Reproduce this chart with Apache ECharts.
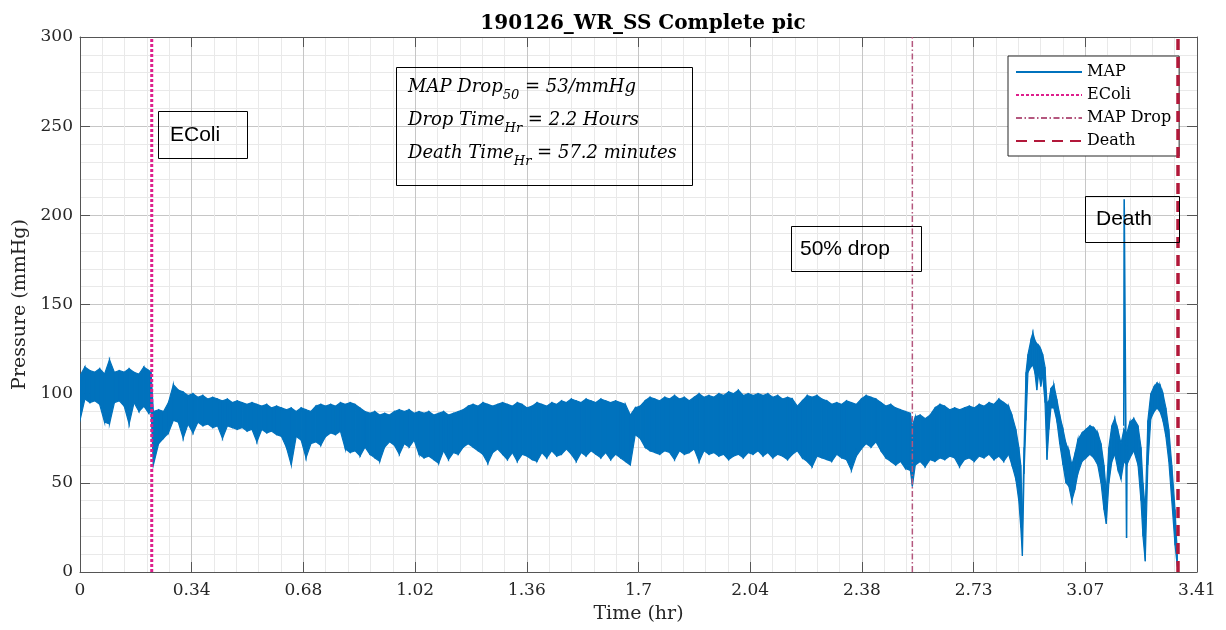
<!DOCTYPE html>
<html><head><meta charset="utf-8">
<script src="https://cdn.jsdelivr.net/npm/echarts@6/dist/echarts.min.js"></script>
<style>html,body{margin:0;padding:0;background:#fff}#c{width:1226px;height:630px}</style>
</head><body><div id="c"></div>
<script>
// ---------- data ----------
const chartTitle = '190126_WR_SS Complete pic';
const xTickLabels = ['0','0.34','0.68','1.02','1.36','1.7','2.04','2.38','2.73','3.07','3.41'];
const xMaxHr = 3.41;
const yMin = 0, yMax = 300, yStep = 50;

// MAP signal: sample times (hr) with the upper and lower edges of the trace (mmHg)
const timeHr = [
0,0.015,0.03,0.045,0.06,0.075,0.09,0.105,0.12,0.135,0.15,0.165,0.18,0.195,0.21,0.217,0.224,
0.24,0.255,0.27,0.285,0.3,0.315,0.33,0.345,0.36,0.375,0.39,0.405,0.42,0.435,0.45,0.465,0.48,0.495,
0.51,0.525,0.54,0.555,0.57,0.585,0.6,0.615,0.63,0.645,0.66,0.675,0.69,0.705,0.72,0.735,0.75,0.765,
0.78,0.795,0.81,0.825,0.84,0.855,0.87,0.885,0.9,0.915,0.93,0.945,0.96,0.975,0.99,1.005,1.02,1.035,
1.05,1.065,1.08,1.095,1.11,1.125,1.14,1.155,1.17,1.185,1.2,1.215,1.23,1.245,1.26,1.275,1.29,1.305,
1.32,1.335,1.35,1.365,1.38,1.395,1.41,1.425,1.44,1.455,1.47,1.485,1.5,1.515,1.53,1.545,1.56,1.575,
1.59,1.605,1.62,1.635,1.65,1.665,1.68,1.695,1.71,1.725,1.74,1.755,1.77,1.785,1.8,1.815,1.83,1.845,
1.86,1.875,1.89,1.905,1.92,1.935,1.95,1.965,1.98,1.995,2.01,2.025,2.04,2.055,2.07,2.085,2.1,2.115,
2.13,2.145,2.16,2.175,2.19,2.205,2.22,2.235,2.25,2.265,2.28,2.295,2.31,2.325,2.34,2.355,2.37,2.385,
2.4,2.415,2.43,2.445,2.46,2.475,2.49,2.505,2.52,2.535,2.541,2.55,2.565,2.58,2.595,2.61,2.625,2.64,
2.655,2.67,2.685,2.7,2.715,2.73,2.745,2.76,2.775,2.79,2.805,2.82,2.835,
2.845,2.857,2.866,2.872,2.877,2.882,2.888,2.894,2.903,2.909,2.915,2.921,2.927,2.933,2.939,2.946,
2.952,2.958,2.964,2.973,2.982,2.991,3.001,3.01,3.019,3.028,3.037,3.046,3.059,3.071,3.083,3.095,
3.107,3.117,3.126,3.133,3.141,3.15,3.159,3.168,3.178,3.187,3.196,3.205,3.217,3.23,3.239,3.245,
3.252,3.26,3.269,3.279,3.288,3.297,3.306,3.315,3.324,3.333,3.343,3.35
];
const mapHigh = [
110,115,113,112,114,111,119,112,113,112,114,112,111,115,113,112,90,
91,90,95,105,102,101,99,100,98,99,97,98,97,96,97,95,96,95,
94,95,94,93,94,92,93,92,91,92,90,92,91,90,93,94,93,94,
93,95,94,95,94,92,90,89,90,88,89,88,90,91,90,91,89,90,
89,90,88,89,90,88,89,90,91,93,94,93,95,94,93,94,95,94,
93,95,94,92,93,95,94,93,95,94,96,95,97,96,95,97,96,95,
97,96,95,96,95,94,88,92,93,96,98,97,96,98,97,99,97,98,
96,98,100,98,99,98,100,99,101,100,102,99,100,99,100,99,100,98,
99,97,98,97,93,96,99,98,99,97,96,94,95,94,96,95,94,97,
99,98,97,95,93,94,92,91,90,89,82,87,88,86,88,92,94,93,
91,92,91,92,93,92,94,93,95,94,97,95,93,
88,80,70,60,30,70,112,122,130,134,130,128,127,125,122,115,
95,96,103,105,97,88,80,72,68,60,66,74,78,80,82,81,
78,72,60,45,70,82,86,80,72,80,78,84,86,82,70,50,
35,85,100,104,106,105,100,92,80,60,35,10
];
const mapLow = [
85,97,95,96,94,84,83,95,96,93,83,95,90,93,89,90,60,
72,75,78,85,84,75,83,78,84,82,83,81,82,75,82,81,80,81,
79,80,73,80,78,79,77,76,70,60,76,74,64,72,73,71,76,78,
77,79,69,67,68,65,70,66,64,62,70,73,71,66,72,70,74,66,
64,65,63,61,68,63,67,66,70,72,70,68,66,61,67,69,66,63,
67,62,66,65,63,62,67,64,68,65,66,69,66,62,67,65,68,66,
64,67,63,66,64,62,60,77,75,70,68,67,66,68,67,63,68,66,
67,69,62,68,66,67,65,66,63,65,66,64,67,66,68,65,67,64,
66,65,63,66,68,64,62,59,65,64,63,62,66,64,63,57,65,69,
72,70,73,68,64,62,60,62,58,57,48,60,62,59,63,62,64,63,
65,64,59,63,64,62,65,64,66,63,65,62,66,
60,52,40,25,9,55,85,112,115,116,112,102,112,104,110,95,
63,80,92,92,85,72,60,50,48,40,46,55,62,64,66,64,
60,50,35,27,50,62,66,58,52,62,60,64,68,60,40,20,
6,60,86,90,92,90,85,76,62,40,15,3
];
// the single sharp artefact near the end of the recording
const spikeTimeHr = [3.1865, 3.1877, 3.195, 3.1965];
const spikeValue = [82, 209, 19, 75];

// event markers
const eventNames = ['EColi', 'MAP Drop', 'Death'];
const eventTimeHr = [0.219, 2.541, 3.352];
const legendNames = ['MAP', 'EColi', 'MAP Drop', 'Death'];

// ---------- chart ----------
const BLUE = '#0072BD';
const SERIF = '"DejaVu Serif", "Liberation Serif", serif';
const SANS = '"Liberation Sans", Arial, sans-serif';
const AX = '#555555';
const xInterval = xMaxHr / 10;

const eventStyles = [
  {color: '#DE1F8C', width: 3, type: [3, 2]},
  {color: '#B4577E', width: 1.5, type: [6, 2.5, 1.5, 2.5]},
  {color: '#B2183A', width: 3.5, type: [11, 7]}
];

const bandData = timeHr.map((t, i) => [t, mapLow[i], mapHigh[i]]);

const series = [
  {
    type: 'custom', name: 'MAP band', silent: true, clip: true, z: 2,
    data: bandData, encode: {x: 0, y: [1, 2]},
    renderItem: function (params, api) {
      const i = params.dataIndex;
      if (i >= timeHr.length - 1) return null;
      const pts = [
        api.coord([timeHr[i], mapHigh[i]]),
        api.coord([timeHr[i + 1], mapHigh[i + 1]]),
        api.coord([timeHr[i + 1], mapLow[i + 1]]),
        api.coord([timeHr[i], mapLow[i]])
      ];
      return {type: 'polygon', shape: {points: pts}, style: {fill: BLUE, stroke: BLUE, lineWidth: 1.2}};
    }
  },
  {
    type: 'line', name: 'MAP', symbol: 'none', silent: true, z: 3,
    data: spikeTimeHr.map((t, i) => [t, spikeValue[i]]),
    lineStyle: {color: BLUE, width: 1.6}, itemStyle: {color: BLUE}
  }
];
eventNames.forEach((n, k) => {
  series.push({
    type: 'line', name: n, symbol: 'none', silent: true, z: 4,
    data: [[eventTimeHr[k], yMin], [eventTimeHr[k], yMax]],
    lineStyle: {color: eventStyles[k].color, width: eventStyles[k].width, type: eventStyles[k].type, cap: 'butt'},
    itemStyle: {color: eventStyles[k].color}
  });
});

const axisCommon = {
  axisLine: {show: true, onZero: false, lineStyle: {color: AX, width: 1}},
  axisTick: {show: true, inside: true, length: 10, lineStyle: {color: AX}}
};

const option = {
  animation: false,
  backgroundColor: '#fff',
  title: {
    text: chartTitle, left: 638, top: 9, textAlign: 'center',
    textStyle: {fontFamily: SERIF, fontWeight: 'bold', fontSize: 20, color: '#000'}
  },
  grid: {left: 80, right: 29, top: 37, bottom: 58, containLabel: false},
  legend: {
    data: legendNames, orient: 'vertical', left: 1008, top: 56,
    itemWidth: 66, itemHeight: 14, itemGap: 7, padding: [8, 8, 7, 7],
    backgroundColor: '#fff', borderColor: '#262626', borderWidth: 1, borderRadius: 0,
    selectedMode: false,
    itemStyle: {opacity: 0, borderWidth: 0},
    textStyle: {fontFamily: SERIF, fontSize: 16, color: '#000'}
  },
  xAxis: [
    Object.assign({
      type: 'value', min: 0, max: xMaxHr, interval: xInterval, position: 'bottom',
      name: 'Time (hr)', nameLocation: 'middle', nameGap: 33,
      nameTextStyle: {fontFamily: SERIF, fontSize: 19, color: '#262626'},
      axisLabel: {
        fontFamily: SERIF, fontSize: 17, color: '#262626', margin: 10,
        formatter: v => xTickLabels[Math.round(v / xInterval)] ?? ''
      },
      splitLine: {show: true, lineStyle: {color: '#c6c6c6', width: 1}},
      minorTick: {show: false, splitNumber: 5},
      minorSplitLine: {show: true, lineStyle: {color: '#e9e9e9', width: 1}}
    }, axisCommon),
    Object.assign({
      type: 'value', min: 0, max: xMaxHr, interval: xInterval, position: 'top',
      axisLabel: {show: false}, splitLine: {show: false}
    }, axisCommon)
  ],
  yAxis: [
    Object.assign({
      type: 'value', min: yMin, max: yMax, interval: yStep, position: 'left',
      name: 'Pressure (mmHg)', nameLocation: 'middle', nameGap: 48,
      nameTextStyle: {fontFamily: SERIF, fontSize: 19, color: '#262626'},
      axisLabel: {fontFamily: SERIF, fontSize: 17, color: '#262626', margin: 7},
      splitLine: {show: true, lineStyle: {color: '#c6c6c6', width: 1}},
      minorTick: {show: false, splitNumber: 5},
      minorSplitLine: {show: true, lineStyle: {color: '#e9e9e9', width: 1}}
    }, axisCommon),
    Object.assign({
      type: 'value', min: yMin, max: yMax, interval: yStep, position: 'right',
      axisLabel: {show: false}, splitLine: {show: false}
    }, axisCommon)
  ],
  series: series,
  graphic: [
    // EColi label box
    {type: 'rect', shape: {x: 158.5, y: 111.5, width: 89, height: 47}, style: {fill: null, stroke: '#000', lineWidth: 1}, z: 10},
    {type: 'text', x: 170, y: 135, style: {text: 'EColi', font: '21px ' + SANS, fill: '#000', verticalAlign: 'middle'}, z: 10},
    // 50% drop label box
    {type: 'rect', shape: {x: 791.5, y: 226.5, width: 130, height: 45}, style: {fill: null, stroke: '#000', lineWidth: 1}, z: 10},
    {type: 'text', x: 800, y: 249, style: {text: '50% drop', font: '21px ' + SANS, fill: '#000', verticalAlign: 'middle'}, z: 10},
    // Death label box
    {type: 'rect', shape: {x: 1085.5, y: 196.5, width: 94, height: 46}, style: {fill: null, stroke: '#000', lineWidth: 1}, z: 10},
    {type: 'text', x: 1096, y: 219, style: {text: 'Death', font: '21px ' + SANS, fill: '#000', verticalAlign: 'middle'}, z: 10},
    // summary box
    {type: 'rect', shape: {x: 396.5, y: 67.5, width: 296, height: 118}, style: {fill: null, stroke: '#000', lineWidth: 1}, z: 10},
    ...[
      ['MAP Drop', '50', ' = 53/mmHg', 78],
      ['Drop Time', 'Hr', ' = 2.2 Hours', 111],
      ['Death Time', 'Hr', ' = 57.2 minutes', 144]
    ].map(r => ({
      type: 'text', x: 408, y: r[3], z: 10,
      style: {
        text: '{m|' + r[0] + '}{s|' + r[1] + '}{m|' + r[2] + '}',
        verticalAlign: 'top', align: 'left',
        rich: {
          m: {fontFamily: SERIF, fontStyle: 'italic', fontSize: 18, fill: '#000', verticalAlign: 'top', lineHeight: 21},
          s: {fontFamily: SERIF, fontStyle: 'italic', fontSize: 13, fill: '#000', verticalAlign: 'top', padding: [11, 0, 0, 0], lineHeight: 15}
        }
      }
    }))
  ]
};

const chart = echarts.init(document.getElementById('c'), null, {renderer: 'canvas'});
chart.setOption(option);
</script>
</body></html>
